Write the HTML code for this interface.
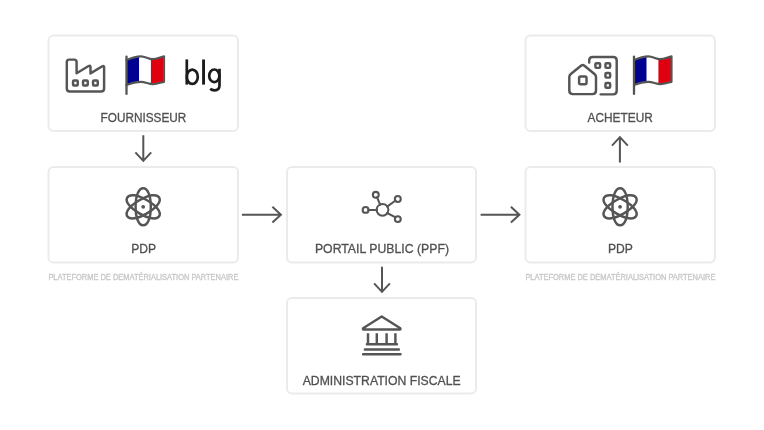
<!DOCTYPE html>
<html><head><meta charset="utf-8">
<style>
html,body{margin:0;padding:0;background:#fff;width:764px;height:430px;overflow:hidden}
svg{display:block;will-change:transform}
text{font-family:"Liberation Sans",sans-serif}
.lbl{font-size:12.5px;fill:#505050;stroke:#505050;stroke-width:0.3;text-anchor:middle}
.sub{font-size:8.3px;fill:#c9c9c9;stroke:#c9c9c9;stroke-width:0.35;text-anchor:middle}
.ic{fill:none;stroke:#555;stroke-width:2.45;stroke-linecap:round;stroke-linejoin:round}
.box{fill:#fff;stroke:#ebebeb;stroke-width:2}
.arr{fill:none;stroke:#555;stroke-width:2;stroke-linecap:butt;stroke-linejoin:miter}
</style></head><body>
<svg width="764" height="430" viewBox="0 0 764 430">
<defs>
<clipPath id="flagclip">
<path d="M126.5 60C131 58 136 56.3 141 56.3C145 56.3 148.5 59.2 152.5 59.2C157 59.2 160.5 57 164 56.3V81.8C160.5 82.5 157 84.2 153 84.2C149 84.2 145 81.9 141 81.9C136 81.9 131 83.3 126.5 85Z"/>
</clipPath>
<g id="flag">
<g clip-path="url(#flagclip)">
<rect x="126" y="54" width="13.2" height="32" fill="#000091"/>
<rect x="139.2" y="54" width="11.7" height="32" fill="#fff"/>
<rect x="150.9" y="54" width="13.5" height="32" fill="#e1000f"/>
</g>
<path class="ic" style="stroke-width:2.2" d="M126.5 60C131 58 136 56.3 141 56.3C145 56.3 148.5 59.2 152.5 59.2C157 59.2 160.5 57 164 56.3V81.8C160.5 82.5 157 84.2 153 84.2C149 84.2 145 81.9 141 81.9C136 81.9 131 83.3 126.5 85"/>
<path class="ic" style="stroke-width:2.3" d="M126.5 56.6V93.9"/>
</g>
<g id="atom" class="ic">
<path d="M0 -18.5C4.56 -18.5 7.6 -11.10 7.6 0C7.6 11.10 4.56 18.5 0 18.5C-4.56 18.5 -7.6 11.10 -7.6 0C-7.6 -11.10 -4.56 -18.5 0 -18.5Z"/>
<path d="M0 -18.5C4.56 -18.5 7.6 -11.10 7.6 0C7.6 11.10 4.56 18.5 0 18.5C-4.56 18.5 -7.6 11.10 -7.6 0C-7.6 -11.10 -4.56 -18.5 0 -18.5Z" transform="rotate(60)"/>
<path d="M0 -18.5C4.56 -18.5 7.6 -11.10 7.6 0C7.6 11.10 4.56 18.5 0 18.5C-4.56 18.5 -7.6 11.10 -7.6 0C-7.6 -11.10 -4.56 -18.5 0 -18.5Z" transform="rotate(-60)"/>
<circle cx="0" cy="0" r="1.9" fill="#555" stroke="none"/>
</g>
</defs>
<!-- boxes -->
<rect class="box" x="48.5" y="35.5" width="189.5" height="95.5" rx="5"/>
<rect class="box" x="48.5" y="167" width="189.5" height="95.5" rx="5"/>
<rect class="box" x="287" y="167" width="189" height="95.5" rx="5"/>
<rect class="box" x="525.5" y="35.5" width="189.5" height="95.5" rx="5"/>
<rect class="box" x="525.5" y="167" width="189.5" height="95.5" rx="5"/>
<rect class="box" x="287" y="298" width="189" height="95.5" rx="5"/>

<!-- labels -->
<text class="lbl" x="143.4" y="122" textLength="85.7" lengthAdjust="spacingAndGlyphs">FOURNISSEUR</text>
<text class="lbl" x="143.6" y="252.5" textLength="24.9" lengthAdjust="spacingAndGlyphs">PDP</text>
<text class="lbl" x="382" y="252.5" textLength="134.2" lengthAdjust="spacingAndGlyphs">PORTAIL PUBLIC (PPF)</text>
<text class="lbl" x="381.7" y="385" textLength="158" lengthAdjust="spacingAndGlyphs">ADMINISTRATION FISCALE</text>
<text class="lbl" x="620.2" y="122" textLength="65.3" lengthAdjust="spacingAndGlyphs">ACHETEUR</text>
<text class="lbl" x="620.4" y="252.5" textLength="24.9" lengthAdjust="spacingAndGlyphs">PDP</text>
<text class="sub" x="143.4" y="280.3" textLength="190" lengthAdjust="spacingAndGlyphs">PLATEFORME DE DEMATÉRIALISATION PARTENAIRE</text>
<text class="sub" x="620.4" y="280.3" textLength="190" lengthAdjust="spacingAndGlyphs">PLATEFORME DE DEMATÉRIALISATION PARTENAIRE</text>

<!-- arrows -->
<g class="arr">
<path d="M143.3 135.2V160.5M135.4 152.4L143.3 160.9L151.2 152.4"/>
<path d="M382 266.8V291.5M374.1 283.4L382 291.9L389.9 283.4"/>
<path d="M619.9 162.5V137.5M612 145.6L619.9 137.1L627.8 145.6"/>
<path d="M241.9 214.7H280.5M272.4 206.8L280.9 214.7L272.4 222.6"/>
<path d="M480.6 214.7H519M510.9 206.8L519.4 214.7L510.9 222.6"/>
</g>

<!-- factory -->
<g class="ic">
<path d="M66.8 62Q66.8 59.6 69.2 59.6H74.2Q76.6 59.6 76.6 62V73.2L88.6 66Q90.5 65 90.5 67V73.4L102.3 66.2Q104.1 65.2 104.1 67.2V88.4Q104.1 91.4 101.1 91.4H69.8Q66.8 91.4 66.8 88.4Z"/>
<rect x="73.05" y="80.5" width="4.7" height="4.9" rx="1"/>
<rect x="83.05" y="80.5" width="4.7" height="4.9" rx="1"/>
<rect x="93.05" y="80.5" width="4.7" height="4.9" rx="1"/>
</g>
<use href="#flag"/>
<g fill="none" stroke="#1c1c1c" stroke-width="2.7">
<path d="M186.8 59.4V84.6"/>
<ellipse cx="192.3" cy="76.75" rx="5.5" ry="7.2"/>
<path d="M203.55 59.5V84.6" style="stroke-width:2.9"/>
<ellipse cx="214.3" cy="75.8" rx="5.1" ry="6.3"/>
<path d="M219.5 68.7V85.5C219.5 88.8 217.3 90.3 214.5 90.3C212.6 90.3 211.2 89.7 210.2 88.8"/>
</g>

<!-- buildings + flag right -->
<g class="ic">
<path d="M589.2 62.4V60.5Q589.2 57 592.7 57H613.2Q616.7 57 616.7 60.5V90.85Q616.7 94.35 613.2 94.35H600.6"/>
<path d="M569.3 77Q569.3 75.2 570.8 74L581 65.8Q582.7 64.4 584.4 65.8L594.5 74Q596 75.2 596 77V90.5Q596 94.1 592.4 94.1H572.9Q569.3 94.1 569.3 90.5Z"/>
<rect x="579.1" y="76.5" width="7.4" height="7.7" rx="1.4"/>
<rect x="595.4" y="63.15" width="4.7" height="4.7" rx="1"/>
<rect x="605.45" y="63.15" width="4.7" height="4.7" rx="1"/>
<rect x="605.45" y="72.9" width="4.7" height="4.7" rx="1"/>
<rect x="605.45" y="83.05" width="4.7" height="4.7" rx="1"/>
</g>
<use href="#flag" transform="translate(507.5 0)"/>

<!-- atoms -->
<use href="#atom" transform="translate(143.2 206.8)"/>
<use href="#atom" transform="translate(620.1 206.8)"/>

<!-- network -->
<g class="ic" style="stroke-width:2.05">
<circle cx="382.5" cy="209.8" r="5.9"/>
<circle cx="365.6" cy="209.9" r="2.95"/>
<circle cx="375.8" cy="194.8" r="2.95"/>
<circle cx="397.8" cy="199" r="2.95"/>
<circle cx="397.8" cy="219.1" r="2.95"/>
<path d="M368.2 209.9H377M377 197.2L380.2 204.8M395.6 200.5L387.1 206.6M395.6 217.4L387.1 213"/>
</g>

<!-- bank -->
<g class="ic">
<path d="M381.7 316.5L363.1 328.2Q362.5 329.5 363.7 329.5H399.7Q400.9 329.5 400.3 328.2Z"/>
<path style="stroke-linecap:butt" d="M368 333.3V343M376.8 333.3V343M386.6 333.3V343M395.4 333.3V343"/>
<path d="M366.9 344.3H396.9M364.9 349.5H398.9M363.1 354.3H400.5"/>
</g>
</svg>
</body></html>
